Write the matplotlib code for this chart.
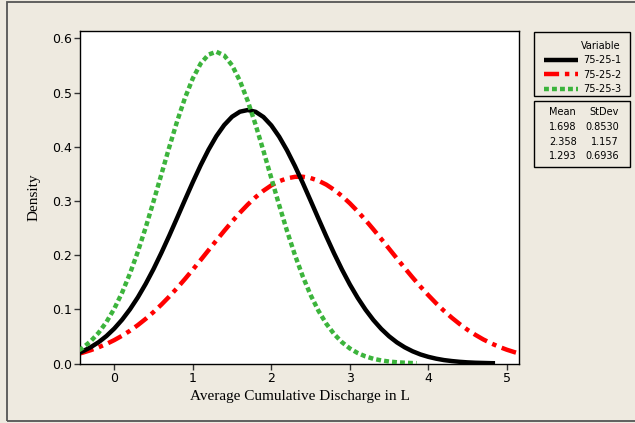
import matplotlib
matplotlib.use("Agg")
import matplotlib.pyplot as plt
from matplotlib.patches import Rectangle

# curves (density vs discharge)
x1 = [-0.45, -0.4, -0.3, -0.2, -0.1, 0.0, 0.1, 0.2, 0.3, 0.4, 0.5, 0.6, 0.7, 0.8, 0.9,
      1.0, 1.1, 1.2, 1.3, 1.4, 1.5, 1.6, 1.7, 1.8, 1.9, 2.0, 2.1, 2.2, 2.3, 2.4, 2.5,
      2.6, 2.7, 2.8, 2.9, 3.0, 3.1, 3.2, 3.3, 3.4, 3.5, 3.6, 3.7, 3.8, 3.9, 4.0, 4.1,
      4.2, 4.3, 4.4, 4.5, 4.6, 4.7, 4.8, 4.85]
y1 = [0.0196, 0.0227, 0.0301, 0.0393, 0.0507, 0.0645, 0.0809, 0.1001, 0.1221, 0.1470,
      0.1744, 0.2043, 0.2359, 0.2687, 0.3019, 0.3346, 0.3658, 0.3944, 0.4195, 0.4400,
      0.4553, 0.4646, 0.4677, 0.4644, 0.4548, 0.4393, 0.4185, 0.3933, 0.3646, 0.3334,
      0.3006, 0.2674, 0.2346, 0.2030, 0.1733, 0.1459, 0.1212, 0.0993, 0.0802, 0.0639,
      0.0502, 0.0389, 0.0298, 0.0225, 0.0167, 0.0123, 0.0089, 0.0063, 0.0045, 0.0031,
      0.0021, 0.0014, 0.0010, 0.0006, 0.0005]

x2 = [-0.45, -0.4, -0.3, -0.2, -0.1, 0.0, 0.1, 0.2, 0.3, 0.4, 0.5, 0.6, 0.7, 0.8, 0.9,
      1.0, 1.1, 1.2, 1.3, 1.4, 1.5, 1.6, 1.7, 1.8, 1.9, 2.0, 2.1, 2.2, 2.3, 2.4, 2.5,
      2.6, 2.7, 2.8, 2.9, 3.0, 3.1, 3.2, 3.3, 3.4, 3.5, 3.6, 3.7, 3.8, 3.9, 4.0, 4.1,
      4.2, 4.3, 4.4, 4.5, 4.6, 4.7, 4.8, 4.9, 5.0, 5.1, 5.15]
y2 = [0.0181, 0.0201, 0.0246, 0.0299, 0.0361, 0.0432, 0.0513, 0.0605, 0.0709, 0.0824,
      0.0950, 0.1087, 0.1235, 0.1393, 0.1559, 0.1732, 0.1909, 0.2090, 0.2270, 0.2447,
      0.2619, 0.2782, 0.2933, 0.3069, 0.3188, 0.3287, 0.3363, 0.3416, 0.3444, 0.3446,
      0.3422, 0.3373, 0.3301, 0.3205, 0.3090, 0.2956, 0.2807, 0.2646, 0.2475, 0.2299,
      0.2118, 0.1938, 0.1760, 0.1586, 0.1419, 0.1260, 0.1110, 0.0971, 0.0843, 0.0727,
      0.0621, 0.0528, 0.0444, 0.0372, 0.0309, 0.0254, 0.0208, 0.0188]

x3 = [-0.45, -0.4, -0.3, -0.2, -0.1, 0.0, 0.1, 0.2, 0.3, 0.4, 0.5, 0.6, 0.7, 0.8, 0.9,
      1.0, 1.1, 1.2, 1.3, 1.4, 1.5, 1.6, 1.7, 1.8, 1.9, 2.0, 2.1, 2.2, 2.3, 2.4, 2.5,
      2.6, 2.7, 2.8, 2.9, 3.0, 3.1, 3.2, 3.3, 3.4, 3.5, 3.6, 3.7, 3.8, 3.85]
y3 = [0.0245, 0.0292, 0.0412, 0.0567, 0.0766, 0.1012, 0.1310, 0.1662, 0.2064, 0.2511,
      0.2992, 0.3492, 0.3991, 0.4468, 0.4899, 0.5261, 0.5534, 0.5700, 0.5752, 0.5684,
      0.5502, 0.5215, 0.4842, 0.4404, 0.3922, 0.3421, 0.2923, 0.2446, 0.2005, 0.1609,
      0.1265, 0.0974, 0.0735, 0.0543, 0.0393, 0.0278, 0.0193, 0.0131, 0.0087, 0.0057,
      0.0036, 0.0023, 0.0014, 0.0008, 0.0006]

names = ["75-25-1", "75-25-2", "75-25-3"]
means = ["1.698", "2.358", "1.293"]
stdevs = ["0.8530", "1.157", "0.6936"]

xticks = [0, 1, 2, 3, 4, 5]
yticks = [0.0, 0.1, 0.2, 0.3, 0.4, 0.5, 0.6]

bg = "#eeeae0"
W, H = 635, 423


def fx(px):
    return px / W


def fy(py):
    return 1 - py / H


fig = plt.figure(figsize=(6.35, 4.23), dpi=100, facecolor=bg)
ax = fig.add_axes([fx(80), fy(363.5), fx(519) - fx(80), fy(31) - fy(363.5)])

lw = 3.2
l1, = ax.plot(x1, y1, color="black", lw=lw, zorder=3, solid_capstyle="butt",
              solid_joinstyle="round")
l2, = ax.plot(x2, y2, color="#ff0000", lw=lw, zorder=2,
              linestyle=(0, (3.4, 1.3, 1.0, 1.3)), dash_capstyle="butt")
l3, = ax.plot(x3, y3, color="#3cb43c", lw=lw, zorder=4,
              linestyle=(0, (1.1, 0.7)), dash_capstyle="butt")

ax.set_xlim(-0.437, 5.155)
ax.set_ylim(0, 0.6135)
ax.set_xticks(xticks)
ax.set_yticks(yticks)
ax.set_yticklabels([f"{v:.1f}" for v in yticks])
ax.tick_params(direction="out", length=4, width=1, pad=2, labelsize=9, color="#333333")
for s in ax.spines.values():
    s.set_linewidth(1.0)

serif = ["Liberation Serif", "DejaVu Serif"]
ax.set_xlabel("Average Cumulative Discharge in L", family=serif, fontsize=11, labelpad=4)
ax.set_ylabel("Density", family=serif, fontsize=11, labelpad=8)

# legend boxes
fig.patches.append(Rectangle((fx(534), fy(96)), fx(630) - fx(534), fy(32) - fy(96),
                             transform=fig.transFigure, fill=False, ec="black", lw=1.0))
fig.patches.append(Rectangle((fx(534), fy(167)), fx(630) - fx(534), fy(101) - fy(167),
                             transform=fig.transFigure, fill=False, ec="black", lw=1.0))
# outer border
fig.patches.append(Rectangle((fx(7), fy(421)), 1.2, fy(2) - fy(421),
                             transform=fig.transFigure, fill=False, ec="#555555", lw=1.3))

leg = fig.legend([l1, l2, l3], names, loc="upper left", bbox_to_anchor=(fx(539), fy(36)),
                 frameon=False, title="Variable", alignment="right", fontsize=7,
                 title_fontsize=7, handlelength=3.5, handletextpad=0.5, borderpad=0,
                 labelspacing=0.45)

fig.text(fx(549), fy(112.3), "Mean", fontsize=7, va="center", ha="left")
fig.text(fx(619), fy(112.3), "StDev", fontsize=7, va="center", ha="right")
rows_y = [126.7, 141.7, 156]
for m, s, ry in zip(means, stdevs, rows_y):
    fig.text(fx(549), fy(ry), m, fontsize=7, va="center", ha="left")
    fig.text(fx(619), fy(ry), s, fontsize=7, va="center", ha="right")

fig.savefig("out.png", dpi=100, facecolor=bg)
